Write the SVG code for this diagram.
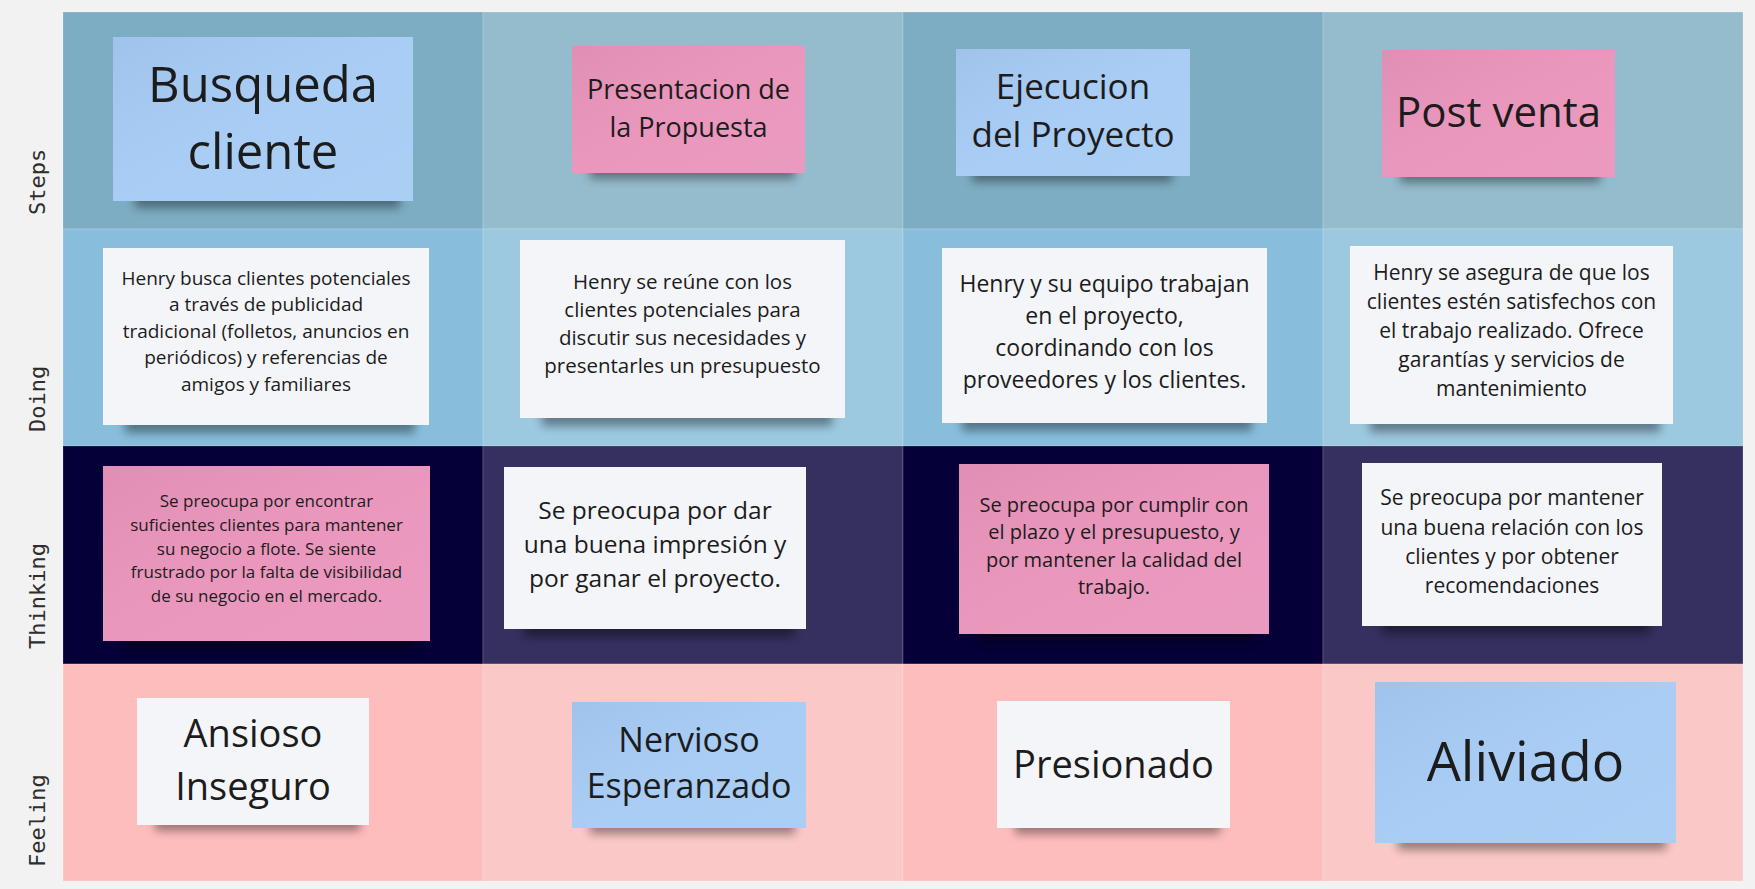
<svg xmlns="http://www.w3.org/2000/svg" width="1755" height="889" viewBox="0 0 1755 889">
<defs>
<filter id="sh" x="-20%" y="-50%" width="140%" height="200%"><feGaussianBlur stdDeviation="5"/></filter>
<linearGradient id="sheen" x1="0" y1="0" x2="1" y2="1">
<stop offset="0" stop-color="#000" stop-opacity="0.04"/>
<stop offset="0.5" stop-color="#fff" stop-opacity="0.03"/>
<stop offset="1" stop-color="#fff" stop-opacity="0.06"/>
</linearGradient>
<style>
.cell{stroke:#ffffff;stroke-opacity:0.18;stroke-width:1}
.blue{fill:#a6cbf4}
.pink{fill:#ea94bb}
.white{fill:#f4f5f8}
.shadow{fill:#000;opacity:0.38;filter:url(#sh)}
.t{font-family:"Open Sans","Noto Sans",sans-serif;fill:#1c1c1c;text-anchor:middle;dominant-baseline:central;transform:translateY(-2px)}
.lbl{font-family:"DejaVu Sans Mono","Liberation Mono",monospace;font-size:22px;fill:#2e2e2e;dominant-baseline:central}
</style>
</defs>
<rect x="0" y="0" width="1755" height="889" fill="#f2f2f2"/>
<g id="grid">
<rect class="cell" x="63" y="12" width="420" height="217" fill="#7dadc3"/>
<rect class="cell" x="483" y="12" width="420" height="217" fill="#95bccc"/>
<rect class="cell" x="903" y="12" width="420" height="217" fill="#7dadc3"/>
<rect class="cell" x="1323" y="12" width="420" height="217" fill="#95bccc"/>
<rect class="cell" x="63" y="229" width="420" height="217" fill="#88bedc"/>
<rect class="cell" x="483" y="229" width="420" height="217" fill="#9cc8e0"/>
<rect class="cell" x="903" y="229" width="420" height="217" fill="#88bedc"/>
<rect class="cell" x="1323" y="229" width="420" height="217" fill="#9cc8e0"/>
<rect class="cell" x="63" y="446" width="420" height="218" fill="#050038"/>
<rect class="cell" x="483" y="446" width="420" height="218" fill="#35305f"/>
<rect class="cell" x="903" y="446" width="420" height="218" fill="#050038"/>
<rect class="cell" x="1323" y="446" width="420" height="218" fill="#35305f"/>
<rect class="cell" x="63" y="664" width="420" height="217" fill="#febdbd"/>
<rect class="cell" x="483" y="664" width="420" height="217" fill="#fac8c7"/>
<rect class="cell" x="903" y="664" width="420" height="217" fill="#febdbd"/>
<rect class="cell" x="1323" y="664" width="420" height="217" fill="#fac8c7"/>
</g>
<g id="row-labels">
<text class="lbl" transform="translate(37,215) rotate(-90)">Steps</text>
<text class="lbl" transform="translate(37,432) rotate(-90)">Doing</text>
<text class="lbl" transform="translate(37,649) rotate(-90)">Thinking</text>
<text class="lbl" transform="translate(37,867) rotate(-90)">Feeling</text>
</g>
<g id="connectors"/>
<g id="steps-busqueda">
<rect class="shadow" x="135" y="188" width="265" height="20"/>
<rect class="blue" x="113" y="37" width="300" height="164"/>
<rect x="113" y="37" width="300" height="164" fill="url(#sheen)"/>
<text class="t" font-size="49"><tspan x="263" y="85">Busqueda</tspan><tspan x="263" y="152">cliente</tspan></text>
</g>
<g id="steps-presentacion">
<rect class="shadow" x="590" y="161" width="205" height="18"/>
<rect class="pink" x="572" y="46" width="233" height="127"/>
<rect x="572" y="46" width="233" height="127" fill="url(#sheen)"/>
<text class="t" font-size="27"><tspan x="688.5" y="89.5">Presentacion de</tspan><tspan x="688.5" y="127.5">la Propuesta</tspan></text>
</g>
<g id="steps-ejecucion">
<rect class="shadow" x="972" y="164" width="200" height="18"/>
<rect class="blue" x="956" y="49" width="234" height="127"/>
<rect x="956" y="49" width="234" height="127" fill="url(#sheen)"/>
<text class="t" font-size="35"><tspan x="1073" y="87">Ejecucion</tspan><tspan x="1073" y="135">del Proyecto</tspan></text>
</g>
<g id="steps-postventa">
<rect class="shadow" x="1400" y="165" width="200" height="18"/>
<rect class="pink" x="1382" y="50" width="233" height="127"/>
<rect x="1382" y="50" width="233" height="127" fill="url(#sheen)"/>
<text class="t" font-size="42"><tspan x="1498.5" y="112">Post venta</tspan></text>
</g>
<g id="doing-1">
<rect class="shadow" x="125" y="413" width="290" height="20"/>
<rect class="white" x="103" y="248" width="326" height="177"/>
<text class="t" font-size="19"><tspan x="266" y="279.5">Henry busca clientes potenciales</tspan><tspan x="266" y="306">a través de publicidad</tspan><tspan x="266" y="332.5">tradicional (folletos, anuncios en</tspan><tspan x="266" y="359">periódicos) y referencias de</tspan><tspan x="266" y="385.5">amigos y familiares</tspan></text>
</g>
<g id="doing-2">
<rect class="shadow" x="542" y="406" width="290" height="20"/>
<rect class="white" x="520" y="240" width="325" height="178"/>
<text class="t" font-size="20.5"><tspan x="682.5" y="282.6">Henry se reúne con los</tspan><tspan x="682.5" y="310.6">clientes potenciales para</tspan><tspan x="682.5" y="338.6">discutir sus necesidades y</tspan><tspan x="682.5" y="366.6">presentarles un presupuesto</tspan></text>
</g>
<g id="doing-3">
<rect class="shadow" x="962" y="411" width="290" height="20"/>
<rect class="white" x="942" y="248" width="325" height="175"/>
<text class="t" font-size="23"><tspan x="1104.5" y="285">Henry y su equipo trabajan</tspan><tspan x="1104.5" y="317">en el proyecto,</tspan><tspan x="1104.5" y="349">coordinando con los</tspan><tspan x="1104.5" y="381">proveedores y los clientes.</tspan></text>
</g>
<g id="doing-4">
<rect class="shadow" x="1370" y="412" width="290" height="20"/>
<rect class="white" x="1350" y="246" width="323" height="178"/>
<text class="t" font-size="21"><tspan x="1511.5" y="274.2">Henry se asegura de que los</tspan><tspan x="1511.5" y="303.1">clientes estén satisfechos con</tspan><tspan x="1511.5" y="332">el trabajo realizado. Ofrece</tspan><tspan x="1511.5" y="360.9">garantías y servicios de</tspan><tspan x="1511.5" y="389.8">mantenimiento</tspan></text>
</g>
<g id="thinking-1">
<rect class="shadow" x="125" y="629" width="290" height="20"/>
<rect class="pink" x="103" y="466" width="327" height="175"/>
<rect x="103" y="466" width="327" height="175" fill="url(#sheen)"/>
<text class="t" font-size="17"><tspan x="266.5" y="502.4">Se preocupa por encontrar</tspan><tspan x="266.5" y="526">suficientes clientes para mantener</tspan><tspan x="266.5" y="549.6">su negocio a flote. Se siente</tspan><tspan x="266.5" y="573.2">frustrado por la falta de visibilidad</tspan><tspan x="266.5" y="596.8">de su negocio en el mercado.</tspan></text>
</g>
<g id="thinking-2">
<rect class="shadow" x="524" y="617" width="270" height="20"/>
<rect class="white" x="504" y="467" width="302" height="162"/>
<text class="t" font-size="24.5"><tspan x="655" y="511">Se preocupa por dar</tspan><tspan x="655" y="545">una buena impresión y</tspan><tspan x="655" y="579">por ganar el proyecto.</tspan></text>
</g>
<g id="thinking-3">
<rect class="shadow" x="979" y="622" width="275" height="20"/>
<rect class="pink" x="959" y="464" width="310" height="170"/>
<rect x="959" y="464" width="310" height="170" fill="url(#sheen)"/>
<text class="t" font-size="20"><tspan x="1114" y="505.6">Se preocupa por cumplir con</tspan><tspan x="1114" y="533.2">el plazo y el presupuesto, y</tspan><tspan x="1114" y="560.8">por mantener la calidad del</tspan><tspan x="1114" y="588.4">trabajo.</tspan></text>
</g>
<g id="thinking-4">
<rect class="shadow" x="1382" y="614" width="268" height="20"/>
<rect class="white" x="1362" y="463" width="300" height="163"/>
<text class="t" font-size="21"><tspan x="1512" y="499.4">Se preocupa por mantener</tspan><tspan x="1512" y="528.5">una buena relación con los</tspan><tspan x="1512" y="557.6">clientes y por obtener</tspan><tspan x="1512" y="586.7">recomendaciones</tspan></text>
</g>
<g id="feeling-1">
<rect class="shadow" x="155" y="813" width="205" height="18"/>
<rect class="white" x="137" y="698" width="232" height="127"/>
<text class="t" font-size="38"><tspan x="253" y="734.3">Ansioso</tspan><tspan x="253" y="786.9">Inseguro</tspan></text>
</g>
<g id="feeling-2">
<rect class="shadow" x="590" y="816" width="205" height="18"/>
<rect class="blue" x="572" y="702" width="234" height="126"/>
<rect x="572" y="702" width="234" height="126" fill="url(#sheen)"/>
<text class="t" font-size="34"><tspan x="689" y="741">Nervioso</tspan><tspan x="689" y="787">Esperanzado</tspan></text>
</g>
<g id="feeling-3">
<rect class="shadow" x="1015" y="816" width="205" height="18"/>
<rect class="white" x="997" y="701" width="233" height="127"/>
<text class="t" font-size="38"><tspan x="1113.5" y="764.5">Presionado</tspan></text>
</g>
<g id="feeling-4">
<rect class="shadow" x="1398" y="830" width="268" height="20"/>
<rect class="blue" x="1375" y="682" width="301" height="161"/>
<rect x="1375" y="682" width="301" height="161" fill="url(#sheen)"/>
<text class="t" font-size="54"><tspan x="1525.5" y="762">Aliviado</tspan></text>
</g>
</svg>
